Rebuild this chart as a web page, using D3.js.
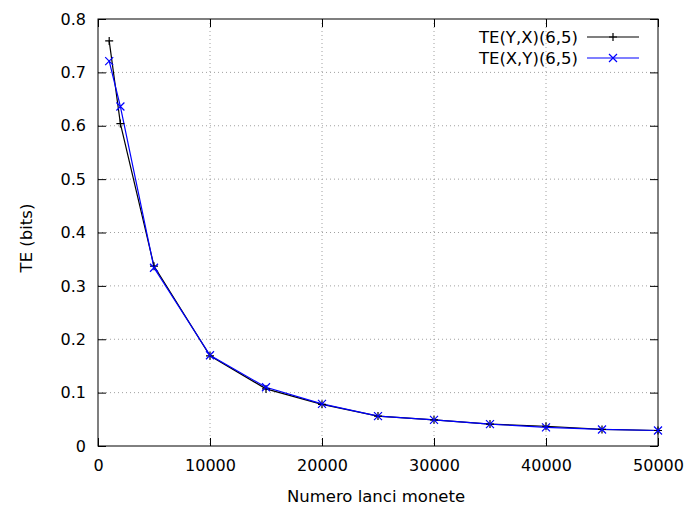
<!DOCTYPE html>
<html><head><meta charset="utf-8">
<script src="https://cdn.jsdelivr.net/npm/d3@7"></script>
<style>body{margin:0;background:#fff;} svg{display:block;} text{font-family:"DejaVu Sans",sans-serif;}</style>
</head><body>
<svg id="c" width="688" height="507"></svg>
<script>
const xValues = [1000, 2000, 5000, 10000, 15000, 20000, 25000, 30000, 35000, 40000, 45000, 50000];
const teYX = [0.759, 0.604, 0.337, 0.169, 0.107, 0.078, 0.056, 0.049, 0.041, 0.037, 0.031, 0.029];
const teXY = [0.721, 0.636, 0.334, 0.170, 0.110, 0.079, 0.056, 0.049, 0.041, 0.035, 0.031, 0.029];
const xTicks = [0, 10000, 20000, 30000, 40000, 50000];
const yTicks = [0, 0.1, 0.2, 0.3, 0.4, 0.5, 0.6, 0.7, 0.8];
const seriesNames = ["TE(Y,X)(6,5)", "TE(X,Y)(6,5)"];

const svg = d3.select("#c");
const L = 98, R = 658, T = 19, B = 446;
const x = d3.scaleLinear().domain([0, 50000]).range([L, R]);
const y = d3.scaleLinear().domain([0, 0.8]).range([B, T]);

// grid
const g = svg.append("g");
g.selectAll("line.gx").data(xTicks.slice(1, -1)).enter().append("line")
  .attr("x1", d => x(d)).attr("x2", d => x(d)).attr("y1", T).attr("y2", B)
  .attr("stroke", "#a0a0a0").attr("stroke-width", 1).attr("stroke-dasharray", "1,3");
g.selectAll("line.gy").data(yTicks.slice(1, -1)).enter().append("line")
  .attr("y1", d => y(d)).attr("y2", d => y(d)).attr("x1", L).attr("x2", R)
  .attr("stroke", "#a0a0a0").attr("stroke-width", 1).attr("stroke-dasharray", "1,3");

// axes with inward ticks
const fmtY = d => d === 0 ? "0" : d3.format(".1f")(d);
const ax = svg.append("g").attr("transform", `translate(0,${B})`)
  .call(d3.axisBottom(x).tickValues(xTicks).tickSize(-8).tickPadding(14).tickFormat(d3.format("d")));
const axTop = svg.append("g").attr("transform", `translate(0,${T})`)
  .call(d3.axisTop(x).tickValues(xTicks).tickSize(-8).tickFormat(""));
const ay = svg.append("g").attr("transform", `translate(${L},0)`)
  .call(d3.axisLeft(y).tickValues(yTicks).tickSize(-8).tickPadding(12).tickFormat(fmtY));
const ayR = svg.append("g").attr("transform", `translate(${R},0)`)
  .call(d3.axisRight(y).tickValues(yTicks).tickSize(-8).tickFormat(""));
[ax, axTop, ay, ayR].forEach(a => {
  a.select(".domain").remove();
  a.selectAll(".tick line").attr("stroke", "#000").attr("stroke-width", 1);
  a.selectAll("text").attr("font-size", 16).attr("fill", "#000").attr("font-family", "DejaVu Sans");
});

svg.append("rect").attr("x", L).attr("y", T).attr("width", R - L).attr("height", B - T)
  .attr("fill", "none").attr("stroke", "#000").attr("stroke-width", 1);

// series
const line = d3.line().x(d => x(d[0])).y(d => y(d[1]));
const d1 = xValues.map((v, i) => [v, teYX[i]]);
const d2 = xValues.map((v, i) => [v, teXY[i]]);
svg.append("path").datum(d1).attr("d", line).attr("fill", "none").attr("stroke", "#000").attr("stroke-width", 1.2);
svg.append("path").datum(d2).attr("d", line).attr("fill", "none").attr("stroke", "#0000ff").attr("stroke-width", 1.2);

const s = 4;
function plus(sel, color) {
  sel.append("path").attr("d", d => `M${x(d[0]) - s},${y(d[1])}h${2 * s}M${x(d[0])},${y(d[1]) - s}v${2 * s}`)
    .attr("stroke", color).attr("stroke-width", 1.2).attr("fill", "none");
}
function cross(sel, color) {
  sel.append("path").attr("d", d => `M${x(d[0]) - s},${y(d[1]) - s}l${2 * s},${2 * s}M${x(d[0]) - s},${y(d[1]) + s}l${2 * s},${-2 * s}`)
    .attr("stroke", color).attr("stroke-width", 1.2).attr("fill", "none");
}
plus(svg.append("g").selectAll("g").data(d1).enter().append("g"), "#000");
cross(svg.append("g").selectAll("g").data(d2).enter().append("g"), "#0000ff");

// legend
const legColors = ["#000", "#0000ff"];
seriesNames.forEach((n, i) => {
  const ly = 37 + i * 21;
  svg.append("text").attr("x", 578).attr("y", ly + 6).attr("text-anchor", "end")
    .attr("font-size", 16.5).attr("fill", "#000").text(n);
  svg.append("line").attr("x1", 587).attr("x2", 639).attr("y1", ly).attr("y2", ly)
    .attr("stroke", legColors[i]).attr("stroke-width", 1.2);
  const cx = 613;
  if (i === 0) {
    svg.append("path").attr("d", `M${cx - s},${ly}h${2 * s}M${cx},${ly - s}v${2 * s}`).attr("stroke", "#000").attr("stroke-width", 1.2);
  } else {
    svg.append("path").attr("d", `M${cx - s},${ly - s}l${2 * s},${2 * s}M${cx - s},${ly + s}l${2 * s},${-2 * s}`).attr("stroke", "#0000ff").attr("stroke-width", 1.2);
  }
});

// axis labels
svg.append("text").attr("x", 376).attr("y", 502).attr("text-anchor", "middle")
  .attr("font-size", 16.5).attr("fill", "#000").text("Numero lanci monete");
svg.append("text").attr("transform", "translate(32,238) rotate(-90)").attr("text-anchor", "middle")
  .attr("font-size", 16.5).attr("fill", "#000").text("TE (bits)");
</script>
</body></html>
